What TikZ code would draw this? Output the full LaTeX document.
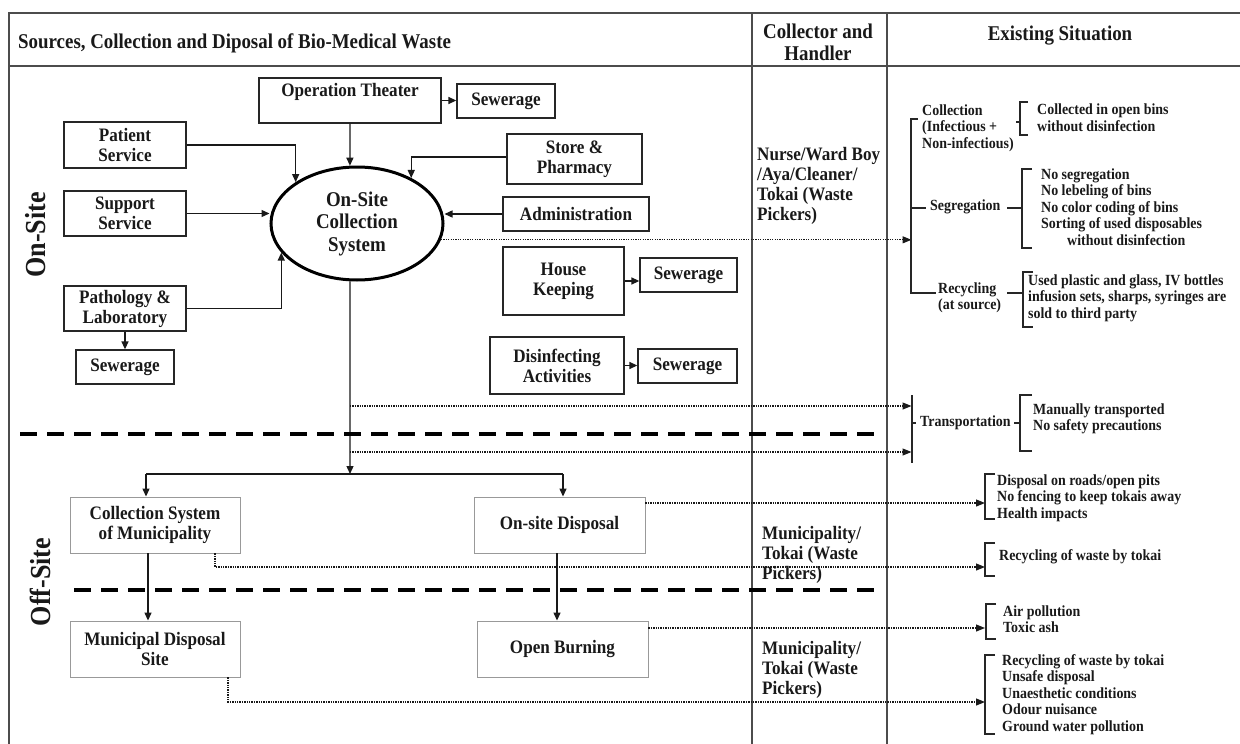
\documentclass[tikz,border=0pt]{standalone}
\usepackage{fontspec}
\setmainfont{Liberation Serif}[FakeStretch=0.9]
\usetikzlibrary{arrows.meta,shapes.geometric,calc}
\tikzset{
  frame/.style={draw=black!70, line width=1.5pt},
  box/.style={draw=black!85, line width=1.3pt, fill=white, inner sep=0pt, align=center,
    text=black!90, font=\bfseries\fontsize{19}{20}\selectfont},
  lbox/.style={box, draw=black!40, line width=0.9pt},
  txt/.style={inner sep=0pt, text=black!90, font=\bfseries\fontsize{19}{20}\selectfont},
  hdr/.style={inner sep=0pt, text=black!90, font=\bfseries\fontsize{21}{22}\selectfont},
  rt/.style={inner sep=0pt, text=black!90, align=left, anchor=west, font=\bfseries\fontsize{15.5}{16.5}\selectfont},
  ct/.style={inner sep=0pt, text=black!90, align=left, anchor=west, font=\bfseries\fontsize{19}{20}\selectfont},
  side/.style={inner sep=0pt, rotate=90, text=black!90, font=\bfseries\fontsize{29}{30}\selectfont},
  arr/.style={draw=black!90, line width=1.3pt, -{Triangle[length=8pt,width=7pt]}},
  dotarr/.style={draw=black!90, line width=1.1pt, dash pattern=on 1.3pt off 1.1pt, -{Triangle[length=9pt,width=7pt]}},
  dsh/.style={draw=black, line width=4.5pt, dash pattern=on 17pt off 10pt},
  brk/.style={draw=black!85, line width=1.3pt}
}
\begin{document}
\begin{tikzpicture}[x=1pt,y=-1pt]
\useasboundingbox (0,0) rectangle (1240,744);
% frame
\draw[frame] (9,744) -- (9,13) -- (1240,13);
\draw[frame] (9,66) -- (1240,66);
\draw[frame] (752,13) -- (752,744);
\draw[frame] (887,13) -- (887,744);
% headers
\node[hdr, anchor=west] (h1) at (18,43) {Sources, Collection and Diposal of Bio-Medical Waste};
\node[hdr, align=center] (h2) at (818,42) {Collector and\\Handler};
\node[hdr] (h3) at (1060,36) {Existing Situation};
% side labels
\node[side] (onsite) at (36,235) {On-Site};
\node[side] (offsite) at (40,582) {Off-Site};
% boxes
\node[box, minimum width=182, minimum height=45] (ot) at (350,100.5) {};
\node[txt] (otl) at (350,92) {Operation Theater};
\node[box, minimum width=98, minimum height=34] (sw1) at (506,101) {Sewerage};
\node[box, minimum width=122, minimum height=46] (ps) at (125,145) {Patient\\Service};
\node[box, minimum width=135, minimum height=50] (sp) at (574.5,159) {Store \&\\Pharmacy};
\node[box, minimum width=122, minimum height=45] (ss) at (125,213.5) {Support\\Service};
\node[box, minimum width=146, minimum height=34] (adm) at (576,214) {Administration};
\node[box, minimum width=121, minimum height=68] (hk) at (563.5,281) {House\\Keeping};
\node[box, minimum width=97, minimum height=34] (sw2) at (688.5,275) {Sewerage};
\node[box, minimum width=122, minimum height=45] (pl) at (125,308.5) {Pathology \&\\Laboratory};
\node[box, minimum width=98, minimum height=34] (sw3) at (125,367) {Sewerage};
\node[box, minimum width=134, minimum height=57] (da) at (557,365.5) {Disinfecting\\Activities};
\node[box, minimum width=99, minimum height=34] (sw4) at (687.5,366) {Sewerage};
\node[ellipse, draw=black, line width=3pt, inner sep=0pt, minimum width=172, minimum height=113,
  align=center, text=black!90, font=\bfseries\fontsize{21}{22.5}\selectfont] (ell) at (357,223.5) {On-Site\\Collection\\System};
\node[lbox, minimum width=170, minimum height=56] (csm) at (155,525) {Collection System\\of Municipality};
\node[lbox, minimum width=171, minimum height=56] (osd) at (559.5,525) {On-site Disposal};
\node[lbox, minimum width=170, minimum height=56] (mds) at (155,649) {Municipal Disposal\\Site};
\node[lbox, minimum width=171, minimum height=56] (ob) at (562.5,649) {Open Burning};
% solid arrows
\draw[arr] (ot.south) -- (ell.97);
\draw[arr] (ot.east) -- (ot.east -| sw1.west);
\draw[arr] (ps.east) -| (ell.146);
\draw[arr] (ss.east) -- (ss.east -| ell.west);
\draw[arr] ([yshift=2pt]sp.west) -| (ell.40);
\draw[arr] (adm.west) -- (adm.west -| ell.east);
\draw[arr] (pl.east) -| (ell.201);
\draw[arr] (pl.south) -- (sw3.north);
\draw[arr] (hk.east) -- (hk.east -| sw2.west);
\draw[arr] (da.east) -- (da.east -| sw4.west);
\coordinate (br) at (350,474);
\draw[arr] (ell.263) -- (br);
\draw[draw=black!90, line width=1.3pt] ([xshift=-9pt]csm.north |- br) -- ([xshift=3.5pt]osd.north |- br);
\draw[arr] ([xshift=-9pt]csm.north |- br) -- ([xshift=-9pt]csm.north);
\draw[arr] ([xshift=3.5pt]osd.north |- br) -- ([xshift=3.5pt]osd.north);
\draw[arr] ([xshift=-7pt]csm.south) -- ([xshift=-7pt]mds.north);
\draw[arr] ([xshift=-2.5pt]osd.south) -- ([xshift=-2.5pt]osd.south |- ob.north);
% dashed boundaries
\draw[dsh] (20,434) -- (882,434);
\draw[dsh] (74,590) -- (882,590);
% dotted arrows
\coordinate (bA) at (911.5,239);
\coordinate (bB) at (985,500);
\coordinate (t1) at (350,406);
\coordinate (t2) at (350,452);
\coordinate (b2) at (985,567);
\coordinate (b4) at (985,702);
\draw[dotarr] (ell.-11) -- (ell.-11 -| bA);
\draw[dotarr] (t1) -- (t1 -| bA);
\draw[dotarr] (t2) -- (t2 -| bA);
\draw[dotarr] ([yshift=22pt]osd.east) -- ([yshift=22pt]osd.east -| bB);
\draw[dotarr] ([xshift=60pt]csm.south) |- (b2);
\draw[dotarr] ([yshift=21pt]ob.east) -- ([yshift=21pt]ob.east -| bB);
\draw[dotarr] ([xshift=73pt]mds.south) |- (b4);
% collector texts
\node[ct] (c1) at (757,186) {Nurse/Ward Boy\\/Aya/Cleaner/\\Tokai (Waste\\Pickers)};
\node[ct] (c2) at (762,555) {Municipality/\\Tokai (Waste\\Pickers)};
\node[ct] (c3) at (762,670) {Municipality/\\Tokai (Waste\\Pickers)};
% existing situation: on-site bracket
\draw[brk] (918,119) -- (911,119) -- (911,293) -- (936,293);
\draw[brk] (911,208) -- (926,208);
\node[rt] (colL) at (922,128) {Collection\\(Infectious +\\Non-infectious)};
\draw[brk] (1016,122) -- (1020,122);
\draw[brk] (1028,102) -- (1020,102) -- (1020,135) -- (1028,135);
\node[rt] (colI) at (1037,117.5) {Collected in open bins\\without disinfection};
\node[rt] (segL) at (930,207) {Segregation};
\draw[brk] (1007,208) -- (1022,208);
\draw[brk] (1032,169) -- (1022,169) -- (1022,248) -- (1032,248);
\node[rt] (segI) at (1041,207) {No segregation\\No lebeling of bins\\No color coding of bins\\Sorting of used disposables\\\hspace*{26pt}without disinfection};
\node[rt] (recL) at (938,298) {Recycling\\(at source)};
\draw[brk] (1007,293) -- (1023,293);
\draw[brk] (1033,272) -- (1023,272) -- (1023,327) -- (1033,327);
\node[rt] (recI) at (1028,298) {Used plastic and glass, IV bottles\\infusion sets, sharps, syringes are\\sold to third party};
% transportation
\draw[brk] (912,395) -- (912,463);
\draw[brk] (912,423) -- (916,423);
\node[rt] (trL) at (920,423) {Transportation};
\draw[brk] (1014,423) -- (1020,423);
\draw[brk] (1032,395) -- (1020,395) -- (1020,451) -- (1032,451);
\node[rt] (trI) at (1033,419) {Manually transported\\No safety precautions};
% off-site brackets
\draw[brk] (995,474) -- (985,474) -- (985,519) -- (995,519);
\node[rt] (o1) at (997,498) {Disposal on roads/open pits\\No fencing to keep tokais away\\Health impacts};
\draw[brk] (995,543) -- (985,543) -- (985,576) -- (995,576);
\node[rt] (o2) at (999,557) {Recycling of waste by tokai};
\draw[brk] (996,604) -- (986,604) -- (986,639) -- (996,639);
\node[rt] (o3) at (1003,619) {Air pollution\\Toxic ash};
\draw[brk] (995,655) -- (985,655) -- (985,734) -- (995,734);
\node[rt] (o4) at (1002,694.5) {Recycling of waste by tokai\\Unsafe disposal\\Unaesthetic conditions\\Odour nuisance\\Ground water pollution};
\end{tikzpicture}
\end{document}
